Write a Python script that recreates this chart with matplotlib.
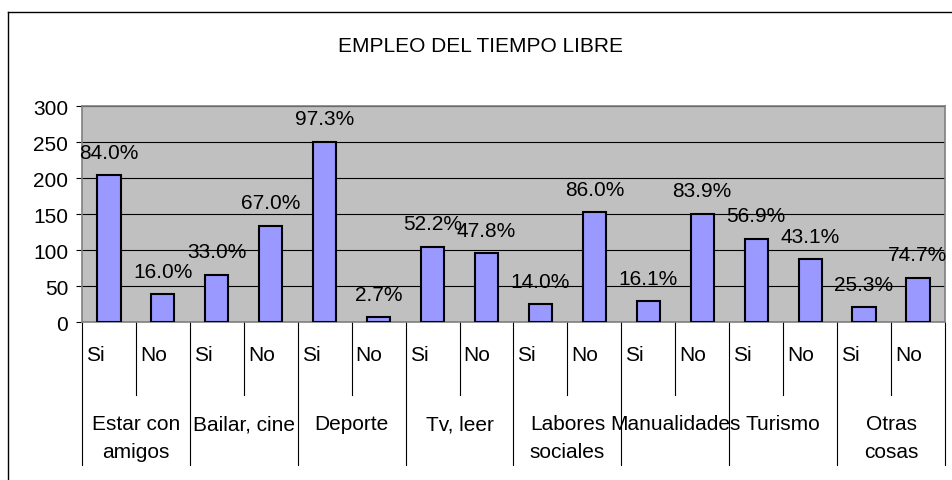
import numpy as np
import matplotlib.pyplot as plt
from matplotlib.lines import Line2D

plt.rcParams['font.family'] = ['Liberation Sans', 'DejaVu Sans']

# datos
grupos = ['Estar con\namigos', 'Bailar, cine', 'Deporte', 'Tv, leer',
          'Labores\nsociales', 'Manualidades', 'Turismo', 'Otras\ncosas']
respuestas = ['Si', 'No']
si = [204, 66, 251, 105, 25, 29, 116, 21]
no = [39, 134, 7, 96, 153, 151, 88, 62]
yticks = [0, 50, 100, 150, 200, 250, 300]

FS = 15

fig = plt.figure(figsize=(9.52, 4.81), dpi=100)
ax = fig.add_axes([0.0861, 0.3279, 0.9065, 0.449])

valores = []
for s, n in zip(si, no):
    valores += [s, n]
valores = np.array(valores)
x = np.arange(len(valores))

ax.set_facecolor('#C0C0C0')
ax.bar(x, valores, width=0.43, color='#9999FF', edgecolor='black', linewidth=1.5, zorder=3)

# porcentajes sobre cada barra
for i, (s, n) in enumerate(zip(si, no)):
    total = s + n
    for j, v in enumerate([s, n]):
        ax.annotate(f'{100 * v / total:.1f}%', (2 * i + j, v), xytext=(0, 16.5),
                    textcoords='offset points', ha='center', va='center', fontsize=FS, zorder=4)

ax.set_xlim(-0.5, len(valores) - 0.5)
ax.set_ylim(0, 300)
ax.set_yticks(yticks)
ax.tick_params(axis='y', labelsize=FS, length=4, pad=6)
ax.set_xticks([])
ax.grid(axis='y', color='black', linewidth=0.8, zorder=1)
ax.set_axisbelow(True)
for sp in ax.spines.values():
    sp.set_color('#808080')
    sp.set_linewidth(1.2)

# eje de categorias en dos niveles
tr = ax.get_xaxis_transform()
for k in range(len(valores) + 1):
    bajo = -0.66 if k % 2 == 0 else -0.337
    ax.add_line(Line2D([k - 0.5, k - 0.5], [0, bajo], transform=tr, color='black',
                       linewidth=0.8, clip_on=False))
for k in range(len(valores)):
    ax.text(k - 0.5 + 0.075, -0.147, respuestas[k % 2], transform=tr, ha='left', va='center',
            fontsize=FS)
for i, g in enumerate(grupos):
    ax.text(2 * i + 0.5, -0.425, g, transform=tr, ha='center', va='top', fontsize=FS,
            linespacing=1.6)

fig.suptitle('EMPLEO DEL TIEMPO LIBRE', x=0.505, y=1 - 47 / 481, va='center', fontsize=FS)

# marco del grafico (recortado a la derecha y abajo)
fig.add_artist(Line2D([7.5 / 952, 7.5 / 952], [0, 1 - 13.3 / 481], transform=fig.transFigure,
                      color='black', linewidth=1))
fig.add_artist(Line2D([7.5 / 952, 1], [1 - 13.3 / 481, 1 - 13.3 / 481], transform=fig.transFigure,
                      color='black', linewidth=1))

fig.savefig('out.png', dpi=100)
